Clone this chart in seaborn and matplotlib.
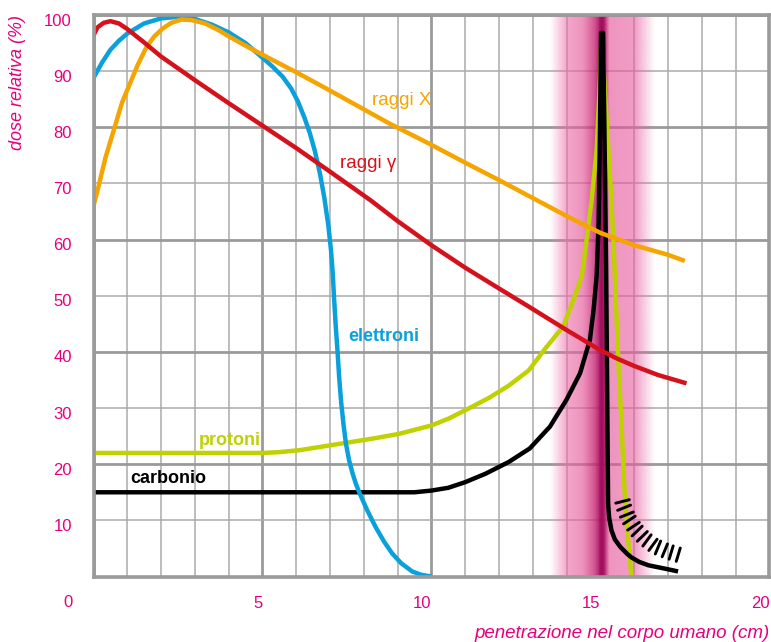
import numpy as np
import pandas as pd
import seaborn as sns
import matplotlib.pyplot as plt
import matplotlib.patheffects as pe
from matplotlib.colors import LinearSegmentedColormap, to_rgba
from matplotlib.transforms import ScaledTranslation


PINK = "#e5007e"

# depth in the body (cm) vs relative dose (%)
gamma_x = [0, 0.12, 0.3, 0.5, 0.75, 1.0, 1.5, 2.0, 3.0, 4.0, 5.2, 6.0, 7.0,
           8.2, 9.0, 10.0, 11.0, 12.0, 12.9, 14.0, 15.0, 15.5, 16.0, 16.7,
           17.55]
gamma_y = [96.4, 97.8, 98.6, 98.9, 98.5, 97.5, 95.1, 92.6, 88.4, 84.3, 79.5,
           76.3, 72.1, 67.0, 63.3, 59.0, 55.0, 51.3, 48.0, 43.9, 40.3, 38.8,
           37.5, 35.9, 34.4]

xray_x = [0, 0.15, 0.35, 0.63, 0.85, 1.08, 1.3, 1.57, 1.8, 2.05, 2.3, 2.6,
          2.9, 3.3, 3.7, 4.03, 4.6, 5.2, 6.0, 6.98, 8.0, 8.75, 9.93, 11.0,
          12.0, 13.0, 14.0, 15.0, 16.0, 17.0, 17.5]
xray_y = [66.0, 69.5, 74.5, 80.1, 84.5, 87.8, 91.0, 94.3, 96.2, 97.6, 98.6,
          99.2, 99.1, 98.5, 97.3, 96.1, 94.2, 92.3, 89.8, 86.6, 83.2, 80.7,
          77.1, 73.7, 70.6, 67.4, 64.2, 61.2, 59.0, 57.3, 56.2]

electron_x = [0, 0.25, 0.5, 0.75, 1.0, 1.5, 2.0, 2.55, 3.0, 3.5, 4.0, 4.5,
              5.0, 5.3, 5.6, 5.85, 6.05, 6.25, 6.4, 6.55, 6.7, 6.83, 6.95,
              7.03, 7.08, 7.12, 7.17, 7.22, 7.27, 7.33, 7.4, 7.47, 7.56,
              7.66, 7.76, 7.87, 8.1, 8.35, 8.6, 8.84, 9.1, 9.43, 9.7, 10.0]
electron_y = [88.8, 91.5, 93.8, 95.4, 96.7, 98.5, 99.4, 99.7, 99.3, 98.3,
              96.9, 95.0, 92.4, 90.8, 89.0, 86.9, 84.6, 81.6, 79.0, 75.8,
              71.8, 67.5, 62.5, 58.0, 54.0, 49.5, 44.5, 40.3, 35.5, 31.0,
              27.0, 23.7, 20.8, 18.5, 16.6, 14.9, 11.8, 8.8, 6.2, 4.1, 2.4,
              0.9, 0.3, 0.0]

proton_x = [0, 5.0, 5.5, 6.1, 7.57, 8.3, 9.04, 10.0, 10.5, 11.0, 11.7,
            12.29, 12.88, 13.37, 13.9, 14.2, 14.45, 14.55, 14.74, 14.89,
            14.97, 15.04, 15.12, 15.2, 15.3, 15.4, 15.48, 15.55, 15.62,
            15.71, 15.8, 15.92]
proton_y = [22.0, 22.0, 22.15, 22.5, 23.9, 24.6, 25.4, 26.9, 28.1, 29.6,
            31.8, 34.0, 36.7, 40.6, 44.5, 49.2, 53.5, 58.0, 67.0, 76.0, 86.0,
            96.7, 88.0, 80.0, 70.0, 58.0, 46.0, 36.0, 28.0, 16.0, 8.0, 0.0]

carbon_x = [0, 9.5, 10.0, 10.5, 11.0, 11.6, 12.29, 12.91, 13.51, 14.0, 14.4,
            14.69, 14.8, 14.89, 14.95, 14.99, 15.02, 15.08, 15.12, 15.17,
            15.2, 15.22, 15.23, 15.26, 15.33, 15.43, 15.6, 15.8, 15.92, 16.15,
            16.42, 16.91, 17.3]
carbon_y = [15.0, 15.0, 15.3, 15.8, 16.8, 18.3, 20.4, 22.8, 26.7, 31.5, 36.2,
            42.1, 47.5, 53.5, 63.0, 80.0, 96.8, 96.8, 80.0, 55.0, 35.0, 20.0,
            13.0, 10.5, 8.2, 6.6, 5.2, 4.0, 3.4, 2.6, 2.0, 1.4, 0.9]

# fragmentation tail hatching (inner edge of the ticks)
tail_x = [15.43, 15.51, 15.65, 15.88, 16.17, 16.51, 16.91, 17.35]
tail_y = [13.7, 11.8, 9.7, 7.6, 5.8, 4.3, 3.3, 2.5]

# Bragg peak band: depth stops and (semi-transparent) colours
band_x = [13.51, 14.01, 14.46, 14.81, 15.03, 15.11, 15.26, 16.0, 16.59]
band_colors = ["#ed6ba800", "#ed6ba899", "#e5599aa6", "#c92b77cc", "#9e0a5aff",
               "#ad1265f2", "#e44e9499", "#e95da099", "#e95da000"]

series = [
    ("protoni", proton_x, proton_y, "#bfd100"),
    ("carbonio", carbon_x, carbon_y, "#000000"),
    ("elettroni", electron_x, electron_y, "#0aa0dc"),
    ("raggi X", xray_x, xray_y, "#f6a500"),
    ("raggi γ", gamma_x, gamma_y, "#d5121b"),
]

# (text, x, y, colour, weight, size)
labels = [
    ("raggi X", 9.12, 84.0, "#f6a500", "normal", 13.5),
    ("raggi γ", 8.13, 72.7, "#d5121b", "normal", 13.5),
    ("elettroni", 8.59, 41.9, "#0aa0dc", "bold", 13),
    ("protoni", 4.02, 23.5, "#bfd100", "bold", 13),
    ("carbonio", 2.21, 16.7, "#000000", "bold", 13),
]


def build_frame() -> pd.DataFrame:
    frames = []
    for name, xs, ys, _ in series:
        frames.append(pd.DataFrame({"depth": xs, "dose": ys, "particle": name}))
    return pd.concat(frames, ignore_index=True)


def draw_band(ax: plt.Axes) -> None:
    lo, hi = band_x[0], band_x[-1]
    stops = [(v - lo) / (hi - lo) for v in band_x]
    cmap = LinearSegmentedColormap.from_list(
        "band", list(zip(stops, [to_rgba(c) for c in band_colors])), N=512
    )
    grad = np.linspace(0, 1, 600)[None, :]
    ax.imshow(grad, cmap=cmap, extent=(lo, hi, 0, 100), aspect="auto",
              interpolation="bilinear", zorder=1)


def main() -> None:
    sns.set_style("white")
    plt.rcParams["font.family"] = ["Liberation Sans", "DejaVu Sans"]

    df = build_frame()

    fig = plt.figure(figsize=(7.71, 6.42), dpi=100)
    ax = fig.add_axes([93.5 / 771, (642 - 576.5) / 642,
                       (769.3 - 93.5) / 771, (576.5 - 15) / 642])

    draw_band(ax)

    for name, _, _, color in series:
        sub = df[df["particle"] == name]
        sns.lineplot(data=sub, x="depth", y="dose", color=color, sort=False,
                     estimator=None, linewidth=3.2, ax=ax, zorder=3,
                     solid_capstyle="butt")

    ax.plot(tail_x, tail_y, color="black", linewidth=0, zorder=3,
            path_effects=[pe.TickedStroke(spacing=5.3, angle=90, length=1.9,
                                          linewidth=2.1, foreground="black")])

    for text, x, y, color, weight, size in labels:
        ax.text(x, y, text, color=color, fontsize=size, fontweight=weight,
                ha="center", va="baseline", zorder=4)

    ax.set_xlim(0, 20)
    ax.set_ylim(0, 100)

    ax.set_xticks([0, 5, 10, 15, 20], labels=["", "5", "10", "15", "20"])
    ax.set_xticks(range(1, 20), minor=True)
    ax.set_yticks([20, 40, 60, 80, 100], labels=["20", "40", "60", "80", "100"])
    ax.set_yticks([10, 30, 50, 70, 90], labels=["10", "30", "50", "70", "90"],
                  minor=True)

    ax.set_axisbelow(True)
    ax.grid(which="major", color="#9a9a9a", linewidth=2.0)
    ax.grid(which="minor", color="#ababab", linewidth=1.1)

    ax.tick_params(axis="both", which="both", length=0, colors=PINK,
                   labelsize=12)
    ax.tick_params(axis="y", which="both", pad=15.5)
    ax.tick_params(axis="x", which="both", pad=14)
    for lab in ax.get_xticklabels():
        lab.set_horizontalalignment("right")
    shift = ScaledTranslation(0, -0.045, fig.dpi_scale_trans)
    for lab in ax.get_yticklabels() + ax.get_yticklabels(minor=True):
        lab.set_transform(lab.get_transform() + shift)

    ax.text(-0.0377, -0.047, "0", transform=ax.transAxes, color=PINK,
            fontsize=12, ha="center", va="center")

    for spine in ax.spines.values():
        spine.set_color("#9a9a9a")
        spine.set_linewidth(2.6)
        spine.set_zorder(5)

    ax.set_xlabel("")
    ax.set_ylabel("")
    fig.text(18 / 771, 1 - 82 / 642, "dose relativa (%)", rotation=90,
             color=PINK, fontsize=13, fontstyle="italic",
             ha="center", va="center")
    fig.text(770 / 771, 1 - 633 / 642, "penetrazione nel corpo umano (cm)",
             color=PINK, fontsize=13.5, fontstyle="italic",
             ha="right", va="center")

    fig.savefig("out.png", dpi=100)


if __name__ == "__main__":
    main()
